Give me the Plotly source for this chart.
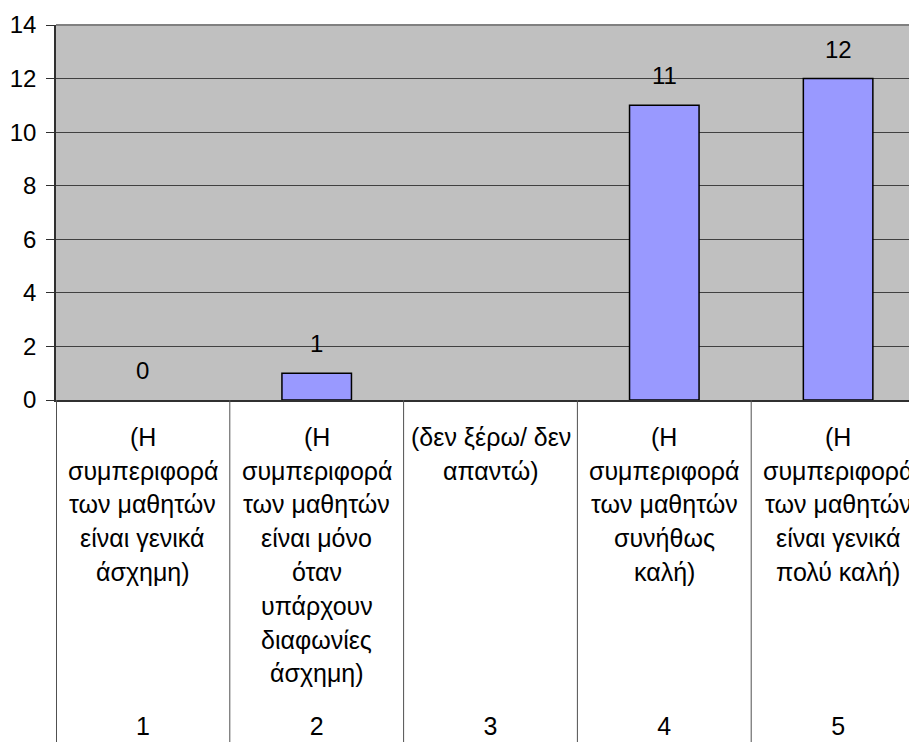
import plotly.graph_objects as go

# category numbers shown on the axis
categories = ["1", "2", "3", "4", "5"]

# long Greek descriptions printed under each category (one entry per line)
descriptions = [
    ["(Η", "συμπεριφορά", "των μαθητών", "είναι γενικά", "άσχημη)"],
    ["(Η", "συμπεριφορά", "των μαθητών", "είναι μόνο", "όταν", "υπάρχουν", "διαφωνίες", "άσχημη)"],
    ["(δεν ξέρω/ δεν", "απαντώ)"],
    ["(Η", "συμπεριφορά", "των μαθητών", "συνήθως", "καλή)"],
    ["(Η", "συμπεριφορά", "των μαθητών", "είναι γενικά", "πολύ καλή)"],
]

# answer counts (category 3 has no value)
counts = [0, 1, None, 11, 12]

y_ticks = [0, 2, 4, 6, 8, 10, 12, 14]

FONT = "Liberation Sans, Arial, sans-serif"
FS = 25
GRID = "#404040"

fig = go.Figure()

fig.add_trace(go.Bar(
    x=categories,
    y=counts,
    width=0.4,
    marker=dict(color="#9999FF",
                line=dict(color="black", width=[0 if not v else 1.5 for v in counts])),
    hoverinfo="x+y",
))

annotations = []

# value labels above the bars (x given as category index)
for i, val in enumerate(counts):
    if val is None:
        continue
    annotations.append(dict(
        x=i, y=val, xref="x", yref="y",
        text=str(val), showarrow=False,
        yanchor="bottom", yshift=14,
        font=dict(family=FONT, size=24, color="black"),
    ))

# multi-line descriptions under the axis
for i, lines in enumerate(descriptions):
    for j, line in enumerate(lines):
        annotations.append(dict(
            x=i, y=0, xref="x", yref="paper",
            text=line, showarrow=False,
            yanchor="middle", yshift=-(36.7 + j * 33.8),
            font=dict(family=FONT, size=FS, color="black"),
        ))

# vertical separators between the categories, running below the plot
shapes = []
for i in range(len(categories)):
    shapes.append(dict(
        type="line", xref="x", yref="paper",
        x0=i - 0.5, x1=i - 0.5, y0=0, y1=-0.92,
        line=dict(color="#505050", width=2 if i == 0 else 1),
        layer="above",
    ))

# page body adds an 8px offset, so the figure is 8px smaller than the window
fig.update_layout(
    width=909,
    height=734,
    margin=dict(l=48, r=0, t=17, b=342),
    paper_bgcolor="white",
    plot_bgcolor="#C0C0C0",
    showlegend=False,
    font=dict(family=FONT, size=FS, color="black"),
    annotations=annotations,
    shapes=shapes,
)

fig.update_xaxes(
    type="category",
    range=[-0.5, 4.454],
    automargin=False,
    showgrid=False,
    showline=True,
    linecolor="#303030",
    linewidth=1.5,
    ticks="",
    ticklabelstandoff=303,
    tickfont=dict(family=FONT, size=FS, color="black"),
    fixedrange=True,
)

fig.update_yaxes(
    range=[0, 14],
    tickvals=y_ticks,
    automargin=False,
    showgrid=True,
    gridcolor=GRID,
    gridwidth=1,
    zeroline=False,
    showline=True,
    linecolor="#303030",
    linewidth=1.5,
    ticks="outside",
    ticklen=8,
    tickcolor="#303030",
    ticklabelstandoff=5,
    tickfont=dict(family=FONT, size=24, color="black"),
    fixedrange=True,
)

# grey frame line across the top of the plot area
fig.add_shape(type="line", xref="paper", yref="paper", x0=0, x1=1, y0=1, y1=1,
              line=dict(color="#808080", width=2), layer="above")

fig.write_html("out.html")
